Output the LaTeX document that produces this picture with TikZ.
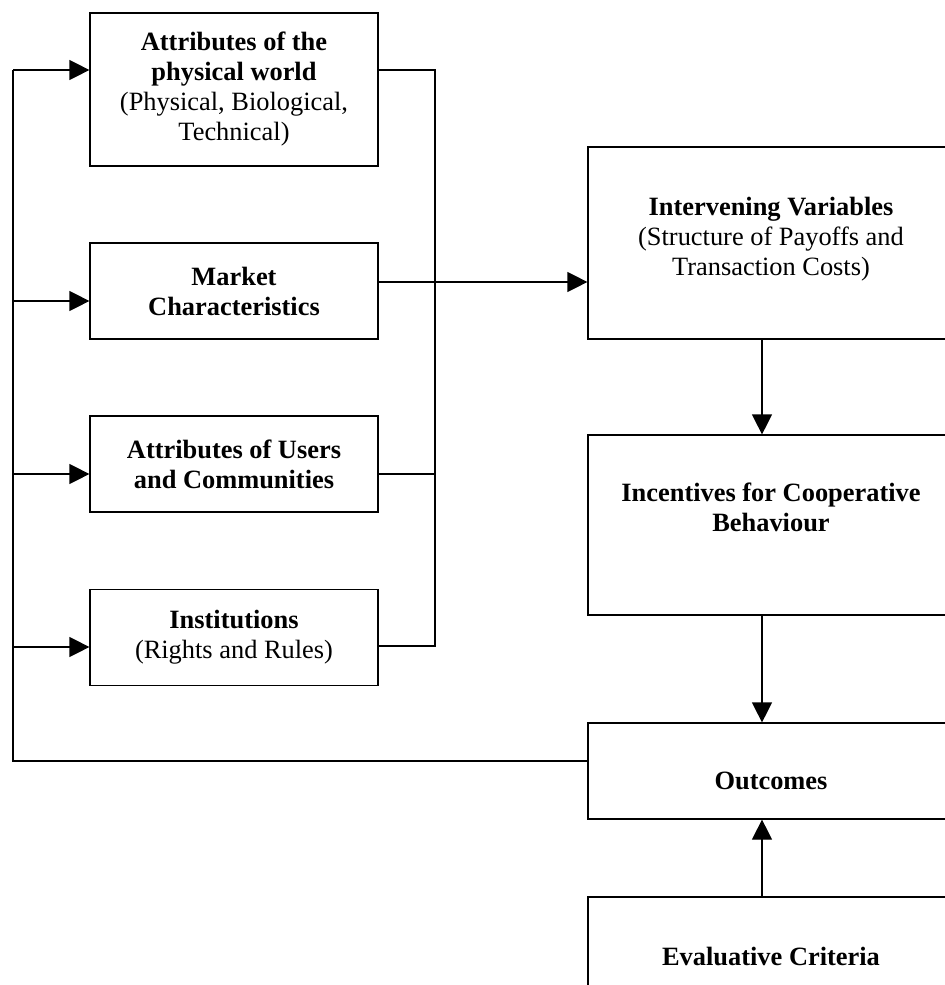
\documentclass[tikz,border=0pt]{standalone}
\usepackage{fontspec}
\setmainfont{Liberation Serif}
\usetikzlibrary{arrows.meta,positioning}

\begin{document}
\begin{tikzpicture}[
  x=0.5pt, y=-0.5pt,
  font=\fontsize{13.2}{15}\selectfont,
  >={Triangle[length=10pt,width=10pt]},
  box/.style={draw, line width=0.6pt, align=center, inner sep=0pt},
  lbox/.style={box, minimum width=144pt, minimum height=48pt},
  rbox/.style={box, minimum width=183pt},
  rtext/.style={align=center, anchor=north, inner sep=0pt},
  wire/.style={line width=0.6pt},
  flow/.style={->, line width=0.6pt}
]
\clip (0,0) rectangle (945,985);

% Left column
\node[lbox, minimum height=76.5pt] (phys) at (234,89.5) {\textbf{Attributes of the}\\\textbf{physical world}\\(Physical, Biological,\\Technical)};
\node[lbox] (market) at (234,291) {\textbf{Market}\\\textbf{Characteristics}};
\node[lbox] (users) at (234,464) {\textbf{Attributes of Users}\\\textbf{and Communities}};
\node[lbox] (inst) at (234,637.5) {\textbf{Institutions}\\(Rights and Rules)};

% Right column
\node[rbox, minimum height=96pt] (interv) at (771,243) {};
\node[rtext] (intervtxt) at ([yshift=-25pt]interv.north) {\textbf{Intervening Variables}\\(Structure of Payoffs and\\Transaction Costs)};

\node[rbox, minimum height=90pt] (incent) at (771,525) {};
\node[rtext] (incenttxt) at ([yshift=-24pt]incent.north) {\textbf{Incentives for Cooperative}\\\textbf{Behaviour}};

\node[rbox, minimum height=48pt] (outc) at (771,771) {};
\node[rtext] (outctxt) at ([yshift=-24.5pt]outc.north) {\textbf{Outcomes}};

\node[rbox, minimum height=96pt] (evalc) at (771,993) {};
\node[rtext] (evalctxt) at ([yshift=-25pt]evalc.north) {\textbf{Evaluative Criteria}};

% Buses
\coordinate (lbus) at (13,0);
\coordinate (rbus) at (435,0);
\coordinate (col) at (762,0);

\coordinate (physin) at ([yshift=9.75pt]phys.west);
\coordinate (mktin) at ([yshift=-5pt]market.west);
\coordinate (usrin) at ([yshift=-5pt]users.west);
\coordinate (instin) at ([yshift=-4.75pt]inst.west);
\coordinate (outcout) at ([yshift=5pt]outc.west);

\coordinate (physout) at ([yshift=9.75pt]phys.east);
\coordinate (mktout) at ([yshift=4.5pt]market.east);
\coordinate (usrout) at ([yshift=-5pt]users.east);
\coordinate (instout) at ([yshift=-4.25pt]inst.east);

% Feedback from outcomes
\draw[wire] (outcout) -- (lbus |- outcout) -- (lbus |- physin);
\draw[flow] (lbus |- physin) -- (physin);
\draw[flow] (lbus |- mktin) -- (mktin);
\draw[flow] (lbus |- usrin) -- (usrin);
\draw[flow] (lbus |- instin) -- (instin);

% Collector on the right
\draw[wire] (physout) -- (rbus |- physout) -- (rbus |- instout) -- (instout);
\draw[wire] (usrout) -- (rbus |- usrout);
\draw[flow] (mktout) -- (mktout -| interv.west);

% Down the right column
\draw[flow] (col |- interv.south) -- (col |- incent.north);
\draw[flow] (col |- incent.south) -- (col |- outc.north);
\draw[flow] (col |- evalc.north) -- (col |- outc.south);

\end{tikzpicture}
\end{document}
